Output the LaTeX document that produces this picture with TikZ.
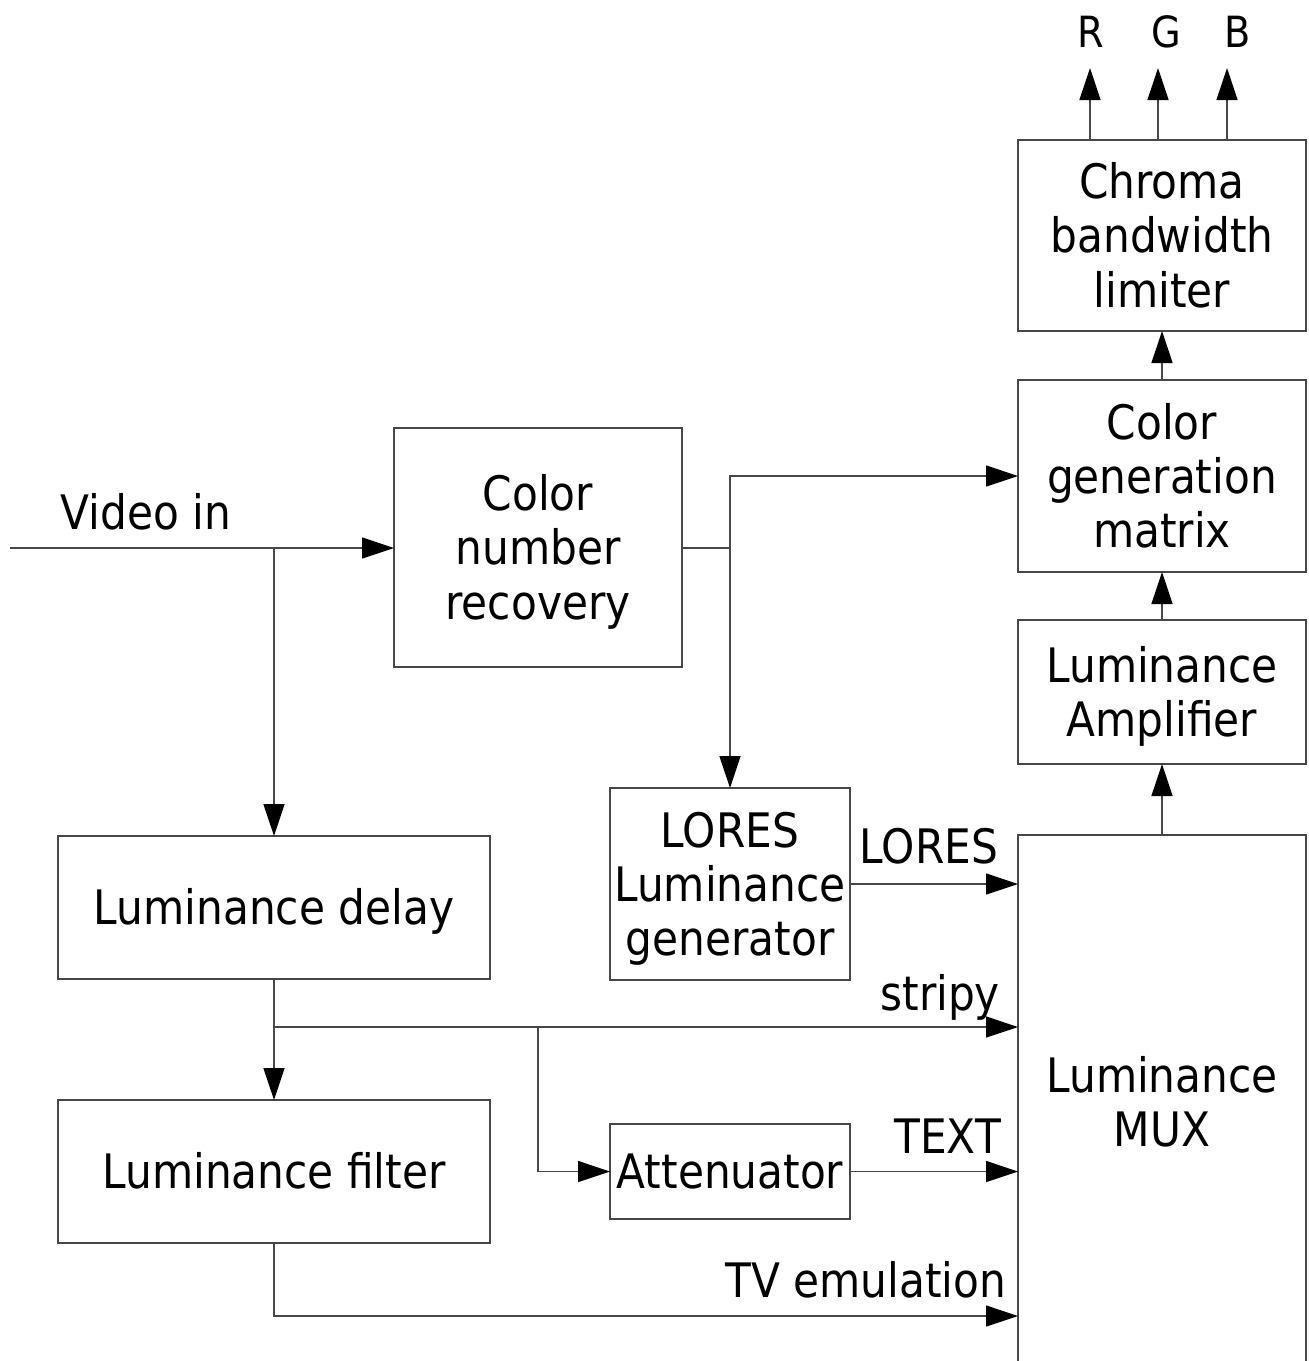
\documentclass[tikz,border=0pt]{standalone}
\usepackage{fontspec}
\setmainfont{DejaVu Sans}[FakeStretch=0.89]
\usetikzlibrary{arrows.meta}
\begin{document}
\begin{tikzpicture}[x=1pt,y=-1pt,
  line/.style={draw=black!72,line width=1.4pt},
  arr/.style={line,-{Triangle[length=32pt,width=21pt,color=black]}},
  txt/.style={font=\fontsize{47.5}{54.2}\selectfont,inner sep=0pt,outer sep=0pt,text=black},
  blk/.style={txt,line,align=center,text depth=0pt},
  one/.style={blk,text height=34.6pt},
  two/.style={blk,text height=88.8pt},
  three/.style={blk,text height=143pt},
  rgb/.style={txt,font=\fontsize{43}{48}\selectfont,anchor=base}
]
\useasboundingbox[fill=white] (0,0) rectangle (1309,1361);

% blocks
\node[three,minimum width=288pt,minimum height=239pt] (cnr) at (538,547.5) {Color\\number\\recovery};
\node[three,minimum width=288pt,minimum height=191pt] (cbl) at (1162,235.5) {Chroma\\bandwidth\\limiter};
\node[three,minimum width=288pt,minimum height=192pt] (cgm) at (1162,476) {Color\\generation\\matrix};
\node[two,minimum width=288pt,minimum height=144pt] (lamp) at (1162,692) {Luminance\\Amplifier};
\node[three,minimum width=240pt,minimum height=192pt] (lores) at (730,884) {LORES\\Luminance\\generator};
\node[one,minimum width=432pt,minimum height=143pt] (ldel) at (274,907.5) {Luminance delay};
\node[one,minimum width=432pt,minimum height=143pt] (lfil) at (274,1171.5) {Luminance filter};
\node[one,minimum width=240pt,minimum height=95pt] (att) at (730,1171.5) {Attenuator};
\node[two,draw=none,anchor=north,minimum width=288pt,minimum height=534pt] (mux) at (1162,835) {Luminance\\MUX};
\draw[line] ([yshift=-60pt]mux.south west) -- (mux.north west) -- (mux.north east) -- ([yshift=-60pt]mux.south east);

% labels
\node[txt,anchor=base] (vinl) at (146,529) {Video in};
\node[txt,anchor=base east] (lorl) at (998,863) {LORES};
\node[txt,anchor=base east] (strl) at (1000,1010) {stripy};
\node[txt,anchor=base east] (txtl) at (1001,1153) {TEXT};
\node[txt,anchor=base east] (tvl) at (1006,1297) {TV emulation};
\node[rgb] (rl) at (1091,47) {R};
\node[rgb] (gl) at (1166,47) {G};
\node[rgb] (bl) at (1238,47) {B};

% junctions
\coordinate (vin) at (10,548);
\coordinate (j1) at (274,548);
\coordinate (j2) at (730,548);
\coordinate (j3) at (274,1027);
\coordinate (j4) at (538,1027);
\coordinate (j5) at (274,1316);

% connectors
\draw[arr] (vin) -- (vin -| cnr.west);
\draw[arr] (j1) -- (ldel.north);
\draw[line] (cnr.east |- j2) -- (j2);
\draw[arr] (j2) |- (cgm.west);
\draw[arr] (j2) -- (lores.north);
\draw[arr] (lores.east) -- (lores.east -| mux.west);
\draw[arr] (ldel.south) -- (lfil.north);
\draw[arr] (j3) -- (j3 -| mux.west);
\draw[arr] (j4) |- (att.west);
\draw[arr] (att.east) -- (att.east -| mux.west);
\draw[arr] (lfil.south) -- (j5) -- (j5 -| mux.west);
\draw[arr] (mux.north) -- (lamp.south);
\draw[arr] (lamp.north) -- (cgm.south);
\draw[arr] (cgm.north) -- (cbl.south);
\draw[arr] ([xshift=-72pt]cbl.north) -- ++(0,-72);
\draw[arr] ([xshift=-4pt]cbl.north) -- ++(0,-72);
\draw[arr] ([xshift=65pt]cbl.north) -- ++(0,-72);
\end{tikzpicture}
\end{document}
